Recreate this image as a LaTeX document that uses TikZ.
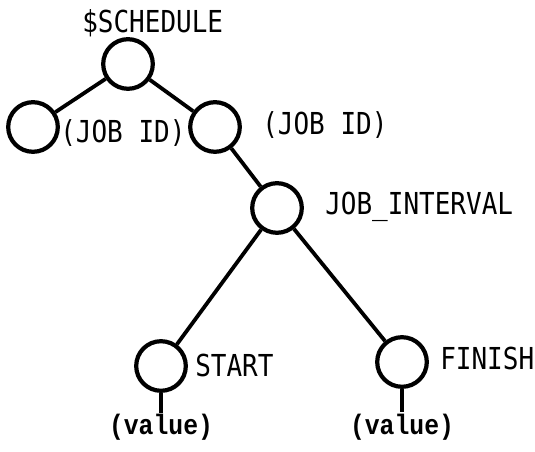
\documentclass[tikz,border=0pt]{standalone}
\usepackage{fontspec}
\usetikzlibrary{positioning}
\newfontfamily\tagfont[FakeStretch=0.86]{DejaVu Sans Mono}
\newfontfamily\valfont[FakeStretch=0.88]{Liberation Mono}
\tikzset{
  treenode/.style={circle, draw, line width=3pt, minimum size=1.24cm, inner sep=0pt},
  tag/.style={anchor=base west, inner sep=0pt, font=\tagfont\fontsize{21.5}{24}\selectfont},
  valtag/.style={anchor=base, inner sep=0pt, font=\valfont\bfseries\fontsize{20}{22}\selectfont},
  branch/.style={line width=2.7pt},
}

\begin{document}
\begin{tikzpicture}
    \useasboundingbox (0,0) rectangle (13.375,11.3);
    % tree nodes
    \node[treenode] (sched) at (3.2,9.7) {};
    \node[treenode] (jobA) at (0.825,8.125) {};
    \node[treenode] (jobB) at (5.375,8.125) {};
    \node[treenode] (interval) at (6.925,6.1) {};
    \node[treenode] (start) at (4.025,2.15) {};
    \node[treenode] (finish) at (10.05,2.25) {};
    % labels
    \node[tag] (schedtag) at (2.05,10.475) {\$SCHEDULE};
    \node[tag] (jobAtag) at (1.5,7.725) {(JOB ID)};
    \node[tag] (jobBtag) at (6.55,7.925) {(JOB ID)};
    \node[tag] (intervaltag) at (8.125,5.925) {JOB\_INTERVAL};
    \node[tag] (starttag) at (4.875,1.875) {START};
    \node[tag] (finishtag) at (11.0,2.05) {FINISH};
    % values
    \coordinate (startend) at (4.025,0.975);
    \coordinate (finishend) at (10.05,1.0);
    \node[valtag] (startval) at (4.025,0.425) {(value)};
    \node[valtag] (finishval) at (10.05,0.425) {(value)};
    % branches
    \draw[branch] (sched) -- (jobA);
    \draw[branch] (sched) -- (jobB);
    \draw[branch] (jobB) -- (interval);
    \draw[branch] (interval) -- (start);
    \draw[branch] (interval) -- (finish);
    \draw[branch] (start.south) -- (startend);
    \draw[branch] (finish.south) -- (finishend);
\end{tikzpicture}
\end{document}
